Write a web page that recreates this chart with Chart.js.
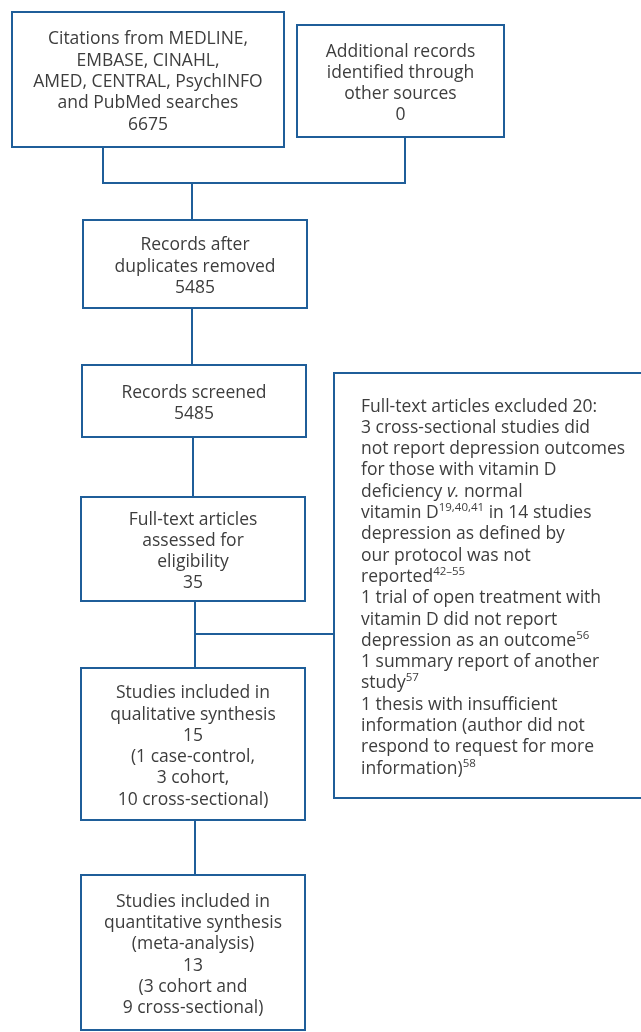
<!DOCTYPE html>
<html>
<head>
<meta charset="utf-8">
<script src="https://cdn.jsdelivr.net/npm/chart.js@4.4.0/dist/chart.umd.min.js"></script>
<style>
  html, body { margin: 0; padding: 0; background: #fff; }
  #flow { display: block; }
</style>
</head>
<body>
<canvas id="flow" width="641" height="1032"></canvas>
<script>
// --- flow stages (text + counts) ---
const stageTitles = [
  'Citations from MEDLINE,\nEMBASE, CINAHL,\nAMED, CENTRAL, PsychINFO\nand PubMed searches',
  'Additional records\nidentified through\nother sources',
  'Records after\nduplicates removed',
  'Records screened',
  'Full-text articles\nassessed for\neligibility',
  'Studies included in\nqualitative synthesis',
  'Studies included in\nquantitative synthesis\n(meta-analysis)'
];
const stageCounts = [6675, 0, 5485, 5485, 35, 15, 13];
const stageBreakdown = [
  '', '', '', '', '',
  '(1 case-control,\n3 cohort,\n10 cross-sectional)',
  '(3 cohort and\n9 cross-sectional)'
];

// exclusions, one entry per printed line: runs of [text, style]
const excludedCount = 20;
const excludedLines = [
  [['Full-text articles excluded ' + excludedCount + ':']],
  [['3 cross-sectional studies did']],
  [['not report depression outcomes']],
  [['for those with vitamin D']],
  [['deficiency '], ['v.', 'i'], [' normal']],
  [['vitamin D'], ['19,40,41', 'sup'], [' in 14 studies']],
  [['depression as defined by']],
  [['our protocol was not']],
  [['reported'], ['42\u201355', 'sup']],
  [['1 trial of open treatment with']],
  [['vitamin D did not report']],
  [['depression as an outcome'], ['56', 'sup']],
  [['1 summary report of another']],
  [['study'], ['57', 'sup']],
  [['1 thesis with insufficient']],
  [['information (author did not']],
  [['respond to request for more']],
  [['information)'], ['58', 'sup']]
];

// --- layout (in canvas units, y downwards) ---
const stageBoxes = [
  [12, 284, 12, 147],
  [297, 504, 25, 137],
  [83, 307, 220, 308],
  [82, 306, 365, 437],
  [81, 305, 497, 601],
  [81, 305, 668, 820],
  [81, 305, 875, 1030]
];
const excludedBox = [334, 660, 373, 798];
const links = [
  [[103, 147], [103, 183], [405, 183], [405, 137]],
  [[192, 183], [192, 220]],
  [[192, 308], [192, 365]],
  [[193, 437], [193, 497]],
  [[195, 601], [195, 668]],
  [[195, 634], [334, 634]],
  [[195, 820], [195, 875]]
];

const LINE_COLOR = '#1f5e99';
const TEXT_COLOR = '#3d3d3d';
const FONT = '"Open Sans", "DejaVu Sans", sans-serif';
const FONT_SIZE = 17.5;
const LINE_H = 21.3;

const rectPoints = (b) => [
  { x: b[0], y: b[2] }, { x: b[1], y: b[2] }, { x: b[1], y: b[3] },
  { x: b[0], y: b[3] }, { x: b[0], y: b[2] }
];

const datasets = [];
stageBoxes.concat([excludedBox]).forEach((b) => {
  datasets.push({ data: rectPoints(b) });
});
links.forEach((l) => {
  datasets.push({ data: l.map((p) => ({ x: p[0], y: p[1] })) });
});
datasets.forEach((d) => {
  d.showLine = true;
  d.borderColor = LINE_COLOR;
  d.borderWidth = 2;
  d.pointRadius = 0;
  d.borderJoinStyle = 'miter';
  d.borderCapStyle = 'square';
  d.tension = 0;
});

const drawRuns = (ctx, runs, x, y) => {
  runs.forEach((r) => {
    const style = r[1] || '';
    if (style === 'sup') {
      ctx.font = '11.5px ' + FONT;
      ctx.fillText(r[0], x, y - 7);
    } else {
      ctx.font = (style === 'i' ? 'italic ' : '') + FONT_SIZE + 'px ' + FONT;
      ctx.fillText(r[0], x, y);
    }
    x += ctx.measureText(r[0]).width;
  });
};

const flowText = {
  id: 'flowText',
  afterDatasetsDraw(chart) {
    const ctx = chart.ctx;
    const xs = chart.scales.x;
    const ys = chart.scales.y;
    ctx.save();
    ctx.fillStyle = TEXT_COLOR;
    ctx.textBaseline = 'alphabetic';

    // centred stage boxes
    ctx.textAlign = 'center';
    ctx.font = FONT_SIZE + 'px ' + FONT;
    stageBoxes.forEach((b, i) => {
      let lines = stageTitles[i].split('\n').concat([String(stageCounts[i])]);
      if (stageBreakdown[i]) lines = lines.concat(stageBreakdown[i].split('\n'));
      const cx = xs.getPixelForValue((b[0] + b[1]) / 2);
      const cy = ys.getPixelForValue((b[2] + b[3]) / 2) + 1;
      const first = cy - (lines.length - 1) * LINE_H / 2;
      lines.forEach((t, k) => {
        ctx.fillText(t, cx, first + k * LINE_H + 6.5);
      });
    });

    // exclusion list, left aligned
    ctx.textAlign = 'left';
    const lx = xs.getPixelForValue(361);
    const top = ys.getPixelForValue(405);
    excludedLines.forEach((runs, k) => {
      drawRuns(ctx, runs, lx, top + k * LINE_H + 6.5);
    });
    ctx.restore();
  }
};

new Chart(document.getElementById('flow'), {
  type: 'scatter',
  data: { datasets: datasets },
  options: {
    responsive: false,
    animation: false,
    events: [],
    layout: { padding: 0 },
    plugins: { legend: { display: false }, tooltip: { enabled: false } },
    scales: {
      x: { type: 'linear', min: 0, max: 641, display: false },
      y: { type: 'linear', min: 0, max: 1032, reverse: true, display: false }
    }
  },
  plugins: [flowText]
});
</script>
</body>
</html>
